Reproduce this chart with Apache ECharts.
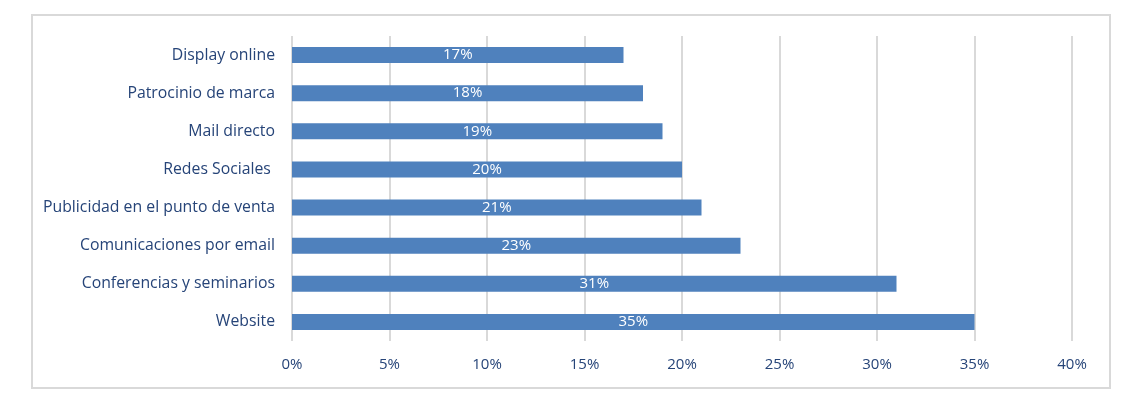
<!DOCTYPE html>
<html><head><meta charset="utf-8">
<script src="https://cdn.jsdelivr.net/npm/echarts@6/dist/echarts.min.js"></script>
<style>html,body{margin:0;padding:0;background:#fff}#frame{position:absolute;left:31px;top:14px;width:1076px;height:371px;border:2px solid #d9d9d9;box-sizing:content-box}#c{position:absolute;left:0;top:0;width:1136px;height:394px}</style>
</head><body><div id="frame"></div><div id="c"></div>
<script>
const categories = ["Website","Conferencias y seminarios","Comunicaciones por email","Publicidad en el punto de venta","Redes Sociales ","Mail directo","Patrocinio de marca","Display online"];
const values = [35,31,23,21,20,19,18,17];
const xTicks = [0,5,10,15,20,25,30,35,40];
const chart = echarts.init(document.getElementById('c'), null, {renderer:'canvas'});
const font = 'Open Sans';
chart.setOption({
  animation:false,
  grid:{left:292,right:64,top:36,bottom:53,containLabel:false},
  xAxis:{type:'value',min:xTicks[0],max:xTicks[xTicks.length-1],interval:5,
    axisLine:{show:false},axisTick:{show:false},
    splitLine:{lineStyle:{color:'#d9d9d9',width:2}},
    axisLabel:{formatter:'{value}%',color:'#264478',fontFamily:font,fontSize:15,margin:16}},
  yAxis:{type:'category',data:categories,
    axisLine:{show:false},axisTick:{show:false},
    axisLabel:{color:'#264478',fontFamily:font,fontSize:15.8,margin:17}},
  series:[{type:'bar',data:values,barWidth:16,itemStyle:{color:'#4f81bd'},
    label:{show:true,position:'inside',formatter:'{c}%',color:'#fff',fontFamily:font,fontSize:15}}]
});
</script></body></html>
